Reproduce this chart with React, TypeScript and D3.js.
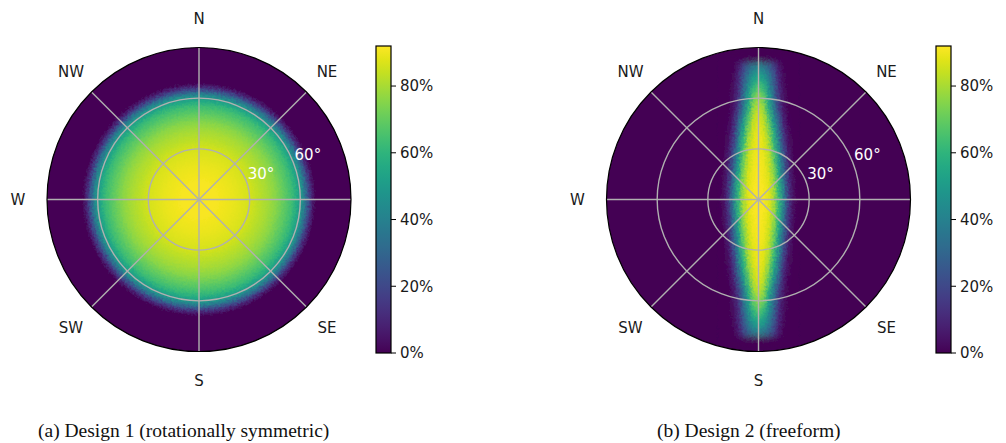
import React from 'react';
import * as d3 from 'd3';

// compass labels (E is hidden behind the colorbar in the original)
const compassLabels = ['N', 'NE', 'SE', 'S', 'SW', 'W', 'NW'];
const compassAzimuth = [0, 45, 135, 180, 225, 270, 315];
const gridAzimuth = [0, 45, 90, 135, 180, 225, 270, 315];
const zenithRings = [30, 60];
const zenithLabels = ['30°', '60°'];
const barTicks = [0, 20, 40, 60, 80];
const barTickLabels = ['0%', '20%', '40%', '60%', '80%'];
const captions = ['(a) Design 1 (rotationally symmetric)', '(b) Design 2 (freeform)'];

// design 1: radial profile (zenith angle in deg -> share in %)
const d1Zenith = [0, 10, 20, 30, 35, 40, 45, 50, 55, 58, 61, 63, 65, 67, 69, 90];
const d1Value = [91, 91, 89, 86, 83, 80, 76, 70, 63, 56, 46, 34, 20, 8, 0, 0];

// design 2: band along N-S, rows = |y| in deg, columns = |x| in deg
const d2Cols = [0, 3, 6, 9, 12, 15, 18, 21, 24];
const d2Rows = [0, 6, 12, 18, 24, 30, 36, 42, 48, 54, 60, 66, 72, 78, 84];
const d2Values = [
  [92, 91, 88, 80, 62, 40, 15, 3, 0],
  [92, 91, 88, 79, 60, 37, 13, 2, 0],
  [92, 90, 87, 77, 57, 33, 11, 2, 0],
  [91, 90, 85, 74, 53, 29, 9, 1, 0],
  [91, 89, 84, 70, 48, 25, 7, 1, 0],
  [90, 88, 82, 65, 43, 20, 5, 0, 0],
  [90, 87, 79, 60, 38, 15, 3, 0, 0],
  [89, 85, 74, 54, 32, 11, 2, 0, 0],
  [87, 82, 67, 46, 25, 8, 1, 0, 0],
  [84, 77, 58, 37, 17, 5, 0, 0, 0],
  [77, 70, 52, 33, 14, 4, 0, 0, 0],
  [67, 61, 46, 29, 12, 3, 0, 0, 0],
  [55, 50, 39, 25, 10, 2, 0, 0, 0],
  [42, 38, 30, 19, 7, 1, 0, 0, 0],
  [0, 0, 0, 0, 0, 0, 0, 0, 0],
];

const R = 152;
const cy = 199.5;
const font = "'DejaVu Sans', sans-serif";
const serif = "'Liberation Serif', 'Times New Roman', serif";

const r = d3.scaleLinear().domain([0, 90]).range([0, R]);
const color = d3.scaleSequential(d3.interpolateViridis).domain([0, 92]);
const barY = d3.scaleLinear().domain([0, 92]).range([353, 46]);

const pol = (az: number, rad: number): [number, number] => {
  const a = (az * Math.PI) / 180;
  return [rad * Math.sin(a), -rad * Math.cos(a)];
};

// grainy texture like the sampled histogram in the original
function Grain({ id, blur }: { id: string; blur: string }) {
  return (
    <filter id={id} x="-20%" y="-20%" width="140%" height="140%">
      <feGaussianBlur in="SourceGraphic" stdDeviation={blur} result="b" />
      <feTurbulence type="fractalNoise" baseFrequency="0.45" numOctaves={2} seed={3} result="n" />
      <feDisplacementMap in="b" in2="n" scale={5} xChannelSelector="R" yChannelSelector="G" />
    </filter>
  );
}

function Design1Heat({ id }: { id: string }) {
  return (
    <g>
      <defs>
        <radialGradient id={id} cx="0" cy="0" r={R} gradientUnits="userSpaceOnUse">
          {d1Zenith.map((z, i) => (
            <stop key={i} offset={z / 90} stopColor={color(d1Value[i])} />
          ))}
        </radialGradient>
        <Grain id={`${id}-grain`} blur="0" />
      </defs>
      <circle r={R} fill={`url(#${id})`} filter={`url(#${id}-grain)`} />
    </g>
  );
}

function Design2Heat({ id }: { id: string }) {
  const maxC = d2Cols[d2Cols.length - 1];
  const xs = [...d2Cols.slice(1).reverse().map(c => -c), ...d2Cols];
  const half = r(maxC);
  const rowH = r(d2Rows[1] - d2Rows[0]);
  const rows: { y: number; i: number }[] = [];
  d2Rows.forEach((y, i) => {
    rows.push({ y, i });
    if (y > 0) rows.push({ y: -y, i });
  });
  return (
    <g>
      <defs>
        {d2Rows.map((y, i) => (
          <linearGradient key={i} id={`${id}-row${i}`} x1="0" x2="1" y1="0" y2="0">
            {xs.map((x, j) => (
              <stop key={j} offset={(x + maxC) / (2 * maxC)}
                stopColor={color(d2Values[i][d2Cols.indexOf(Math.abs(x))])} />
            ))}
          </linearGradient>
        ))}
        <Grain id={`${id}-grain`} blur="0.6 3.2" />
      </defs>
      <g filter={`url(#${id}-grain)`}>
        {rows.map((row, k) => (
          <rect key={k} x={-half} width={2 * half} y={-r(row.y) - rowH / 2 - 0.3} height={rowH + 0.6}
            fill={`url(#${id}-row${row.i})`} />
        ))}
      </g>
    </g>
  );
}

function Panel({ cx, barX, heat, id }: { cx: number; barX: number; heat: 'd1' | 'd2'; id: string }) {
  const barW = 15;
  return (
    <g>
      <g transform={`translate(${cx},${cy})`}>
        <clipPath id={`${id}-clip`}>
          <circle r={R} />
        </clipPath>
        <circle r={R} fill={color(0)} />
        <g clipPath={`url(#${id}-clip)`}>
          {heat === 'd1' ? <Design1Heat id={`${id}-g`} /> : <Design2Heat id={`${id}-g`} />}
        </g>
        {gridAzimuth.map(az => {
          const [x, y] = pol(az, R);
          return <line key={az} x1={0} y1={0} x2={x} y2={y} stroke="#b0b0b0" strokeWidth={1.4} />;
        })}
        {zenithRings.map(z => (
          <circle key={z} r={r(z)} fill="none" stroke="#b0b0b0" strokeWidth={1.4} />
        ))}
        <circle r={R} fill="none" stroke="#000" strokeWidth={1.2} />
        {compassLabels.map((lab, i) => {
          const [x, y] = pol(compassAzimuth[i], 181);
          return (
            <text key={lab} x={x} y={y} dy="0.36em" textAnchor="middle" fontFamily={font} fontSize={15} fill="#1a1a1a">
              {lab}
            </text>
          );
        })}
        {zenithRings.map((z, i) => {
          const [x, y] = pol(90 - 22.5, r(z) + 16.5);
          return (
            <text key={z} x={x} y={y} dy="0.36em" textAnchor="middle" fontFamily={font} fontSize={15} fill="#fff">
              {zenithLabels[i]}
            </text>
          );
        })}
      </g>
      <defs>
        <linearGradient id={`${id}-bar`} x1="0" x2="0" y1="1" y2="0">
          {d3.range(0, 93, 4).map(v => (
            <stop key={v} offset={v / 92} stopColor={color(v)} />
          ))}
        </linearGradient>
      </defs>
      <rect x={barX} y={barY(92)} width={barW} height={barY(0) - barY(92)} fill={`url(#${id}-bar)`} stroke="#000" strokeWidth={1.2} />
      {barTicks.map((t, i) => (
        <g key={t} transform={`translate(${barX + barW},${barY(t)})`}>
          <line x1={0} x2={5} stroke="#000" strokeWidth={1} />
          <text x={9} dy="0.36em" fontFamily={font} fontSize={15} fill="#1a1a1a">{barTickLabels[i]}</text>
        </g>
      ))}
    </g>
  );
}

export default function App() {
  return (
    <svg width={1006} height={443} style={{ position: 'absolute', left: 0, top: 0, background: '#fff' }}>
      <Panel cx={199} barX={376} heat="d1" id="p1" />
      <Panel cx={758.5} barX={936} heat="d2" id="p2" />
      <text x={38} y={437} fontFamily={serif} fontSize={19.5} fill="#111">{captions[0]}</text>
      <text x={657} y={437} fontFamily={serif} fontSize={19.5} fill="#111">{captions[1]}</text>
    </svg>
  );
}
